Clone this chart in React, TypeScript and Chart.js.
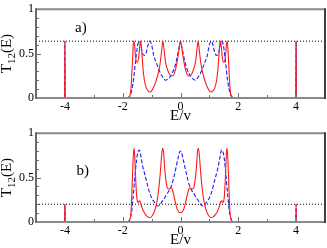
import React, { useEffect, useRef } from 'react';
import { Chart, registerables } from 'chart.js';

Chart.register(...registerables);

const SERIF = "'Liberation Serif', 'Times New Roman', serif";

// axis ticks
const X_MAJOR = [-4, -2, 0, 2, 4];
const X_MINOR = [-3, -1, 1, 3];
const Y_MAJOR = [0, 0.5, 1];
const Y_MINOR = [0.1, 0.2, 0.3, 0.4, 0.6, 0.7, 0.8, 0.9];

// panel labels
const PANEL_LABELS = ['a)', 'b)'];
const LABEL_E = [-3.45, -3.38];
const LABEL_T = [0.79, 0.574];

// horizontal dotted reference levels
const LEVELS = [0.64, 0.2];

// panel a) red solid (E, T)
const A_RED: [number, number][] = [
  [-5, 0], [-4.01, 0], [-4, 0.64], [-3.99, 0], [-1.85, 0], [-1.78, 0.01], [-1.74, 0.04],
  [-1.71, 0.12], [-1.68, 0.3], [-1.65, 0.5], [-1.62, 0.64], [-1.59, 0.6], [-1.55, 0.45],
  [-1.5, 0.4], [-1.45, 0.45], [-1.41, 0.58], [-1.38, 0.64], [-1.35, 0.56], [-1.3, 0.34],
  [-1.25, 0.2], [-1.19, 0.12], [-1.12, 0.08], [-1.06, 0.068], [-1.0, 0.08], [-0.93, 0.12],
  [-0.85, 0.19], [-0.77, 0.28], [-0.7, 0.4], [-0.65, 0.54], [-0.61, 0.64], [-0.57, 0.55],
  [-0.52, 0.41], [-0.46, 0.33], [-0.4, 0.28], [-0.32, 0.25], [-0.26, 0.25], [-0.18, 0.31],
  [-0.11, 0.42], [-0.05, 0.55], [0, 0.64],
  [0.05, 0.55], [0.11, 0.42], [0.18, 0.31], [0.26, 0.25], [0.32, 0.25], [0.4, 0.28],
  [0.46, 0.33], [0.52, 0.41], [0.57, 0.55], [0.61, 0.64], [0.65, 0.54], [0.7, 0.4],
  [0.77, 0.28], [0.85, 0.19], [0.93, 0.12], [1.0, 0.08], [1.06, 0.068], [1.12, 0.08],
  [1.19, 0.12], [1.25, 0.2], [1.3, 0.34], [1.35, 0.56], [1.38, 0.64], [1.41, 0.58],
  [1.45, 0.45], [1.5, 0.4], [1.55, 0.45], [1.59, 0.6], [1.62, 0.64], [1.65, 0.5],
  [1.68, 0.3], [1.71, 0.12], [1.74, 0.04], [1.78, 0.01], [1.85, 0], [3.99, 0], [4, 0.64],
  [4.01, 0], [5, 0],
];

// panel a) blue dashed (E, T)
const A_BLUE: [number, number][] = [
  [-5, 0], [-4.01, 0], [-4, 0.64], [-3.99, 0], [-1.9, 0], [-1.8, 0.01], [-1.74, 0.03],
  [-1.68, 0.1], [-1.62, 0.22], [-1.56, 0.4], [-1.5, 0.56], [-1.45, 0.63], [-1.41, 0.64],
  [-1.36, 0.57], [-1.3, 0.49], [-1.24, 0.48], [-1.18, 0.52], [-1.12, 0.6], [-1.06, 0.64],
  [-1.0, 0.6], [-0.92, 0.47], [-0.84, 0.4], [-0.76, 0.33], [-0.68, 0.27], [-0.6, 0.23],
  [-0.52, 0.2], [-0.45, 0.21], [-0.38, 0.23], [-0.3, 0.27], [-0.22, 0.33], [-0.15, 0.41],
  [-0.08, 0.52], [-0.03, 0.6], [0, 0.64],
  [0.03, 0.6], [0.08, 0.52], [0.15, 0.41], [0.22, 0.33], [0.3, 0.27], [0.38, 0.23],
  [0.45, 0.21], [0.52, 0.2], [0.6, 0.23], [0.68, 0.27], [0.76, 0.33], [0.84, 0.4],
  [0.92, 0.47], [1.0, 0.6], [1.06, 0.64], [1.12, 0.6], [1.18, 0.52], [1.24, 0.48],
  [1.3, 0.49], [1.36, 0.57], [1.41, 0.64], [1.45, 0.63], [1.5, 0.56], [1.56, 0.4],
  [1.62, 0.22], [1.68, 0.1], [1.74, 0.03], [1.8, 0.01], [1.9, 0], [3.99, 0], [4, 0.64],
  [4.01, 0], [5, 0],
];

// panel b) red solid (E, T)
const B_RED: [number, number][] = [
  [-5, 0], [-4.01, 0], [-4, 0.2], [-3.99, 0], [-1.85, 0], [-1.78, 0.01], [-1.74, 0.04],
  [-1.71, 0.12], [-1.68, 0.35], [-1.65, 0.62], [-1.62, 0.8], [-1.6, 0.83], [-1.58, 0.72],
  [-1.55, 0.48], [-1.52, 0.3], [-1.49, 0.23], [-1.46, 0.22], [-1.43, 0.24], [-1.4, 0.23],
  [-1.35, 0.18], [-1.28, 0.12], [-1.2, 0.08], [-1.12, 0.055], [-1.05, 0.05], [-0.98, 0.07],
  [-0.9, 0.12], [-0.82, 0.22], [-0.75, 0.38], [-0.7, 0.55], [-0.66, 0.72], [-0.62, 0.83],
  [-0.59, 0.8], [-0.55, 0.62], [-0.5, 0.46], [-0.45, 0.38], [-0.39, 0.37], [-0.32, 0.385],
  [-0.26, 0.34], [-0.19, 0.24], [-0.12, 0.15], [-0.06, 0.115], [0, 0.107],
  [0.06, 0.115], [0.12, 0.15], [0.19, 0.24], [0.26, 0.34], [0.32, 0.385], [0.39, 0.37],
  [0.45, 0.38], [0.5, 0.46], [0.55, 0.62], [0.59, 0.8], [0.62, 0.83], [0.66, 0.72],
  [0.7, 0.55], [0.75, 0.38], [0.82, 0.22], [0.9, 0.12], [0.98, 0.07], [1.05, 0.05],
  [1.12, 0.055], [1.2, 0.08], [1.28, 0.12], [1.35, 0.18], [1.4, 0.23], [1.43, 0.24],
  [1.46, 0.22], [1.49, 0.23], [1.52, 0.3], [1.55, 0.48], [1.58, 0.72], [1.6, 0.83],
  [1.62, 0.8], [1.65, 0.62], [1.68, 0.35], [1.71, 0.12], [1.74, 0.04], [1.78, 0.01],
  [1.85, 0], [3.99, 0], [4, 0.2], [4.01, 0], [5, 0],
];

// panel b) blue dashed (E, T)
const B_BLUE: [number, number][] = [
  [-5, 0], [-4.01, 0], [-4, 0.2], [-3.99, 0], [-1.9, 0], [-1.8, 0.01], [-1.74, 0.04],
  [-1.69, 0.12], [-1.64, 0.28], [-1.58, 0.5], [-1.52, 0.7], [-1.47, 0.79], [-1.42, 0.81],
  [-1.37, 0.74], [-1.31, 0.63], [-1.24, 0.54], [-1.16, 0.44], [-1.07, 0.33], [-0.98, 0.26],
  [-0.9, 0.22], [-0.83, 0.19], [-0.78, 0.18], [-0.72, 0.19], [-0.64, 0.23], [-0.55, 0.27],
  [-0.46, 0.32], [-0.38, 0.36], [-0.3, 0.42], [-0.22, 0.52], [-0.15, 0.62], [-0.09, 0.71],
  [-0.04, 0.78], [0, 0.8],
  [0.04, 0.78], [0.09, 0.71], [0.15, 0.62], [0.22, 0.52], [0.3, 0.42], [0.38, 0.36],
  [0.46, 0.32], [0.55, 0.27], [0.64, 0.23], [0.72, 0.19], [0.78, 0.18], [0.83, 0.19],
  [0.9, 0.22], [0.98, 0.26], [1.07, 0.33], [1.16, 0.44], [1.24, 0.54], [1.31, 0.63],
  [1.37, 0.74], [1.42, 0.81], [1.47, 0.79], [1.52, 0.7], [1.58, 0.5], [1.64, 0.28],
  [1.69, 0.12], [1.74, 0.04], [1.8, 0.01], [1.9, 0], [3.99, 0], [4, 0.2], [4.01, 0], [5, 0],
];

const framePlugin = {
  id: 'frame',
  afterDatasetsDraw(chart: any, _args: any, opts: any) {
    const { ctx, chartArea: a, scales } = chart;
    const xs = scales.x;
    const ys = scales.y;
    ctx.save();
    // inward tick marks
    ctx.strokeStyle = '#707070';
    ctx.lineWidth = 1;
    const seg = (x1: number, y1: number, x2: number, y2: number) => {
      ctx.beginPath();
      ctx.moveTo(x1, y1);
      ctx.lineTo(x2, y2);
      ctx.stroke();
    };
    X_MAJOR.forEach((v) => { const p = Math.round(xs.getPixelForValue(v)) + 0.5; seg(p, a.bottom, p, a.bottom - 5); });
    X_MINOR.forEach((v) => { const p = Math.round(xs.getPixelForValue(v)) + 0.5; seg(p, a.bottom, p, a.bottom - 3); });
    Y_MAJOR.forEach((v) => { const p = Math.round(ys.getPixelForValue(v)) + 0.5; seg(a.left, p, a.left + 5, p); });
    Y_MINOR.forEach((v) => { const p = Math.round(ys.getPixelForValue(v)) + 0.5; seg(a.left, p, a.left + 3, p); });
    // frame
    ctx.lineWidth = 2;
    ctx.strokeStyle = '#8a8a8a';
    seg(a.left, a.top, a.right, a.top);
    seg(a.left, a.bottom, a.right, a.bottom);
    ctx.strokeStyle = '#6a6a6a';
    seg(a.left, a.top - 1, a.left, a.bottom + 1);
    ctx.strokeStyle = '#404040';
    seg(a.right, a.top - 1, a.right, a.bottom + 1);

    // panel label
    ctx.fillStyle = '#000';
    ctx.font = `15px ${SERIF}`;
    ctx.textAlign = 'center';
    ctx.textBaseline = 'middle';
    ctx.fillText(opts.label, xs.getPixelForValue(opts.labelE), ys.getPixelForValue(opts.labelT));

    // y axis title T_12(E)
    const big = `15px ${SERIF}`;
    const small = `11px ${SERIF}`;
    ctx.font = big;
    const wT = ctx.measureText('T').width;
    const wE = ctx.measureText('(E)').width;
    ctx.font = small;
    const wS = ctx.measureText('12').width;
    const total = wT + wS + wE;
    const cy = (a.top + a.bottom) / 2;
    ctx.translate(11, cy + total / 2);
    ctx.rotate(-Math.PI / 2);
    ctx.textAlign = 'left';
    ctx.textBaseline = 'alphabetic';
    ctx.font = big;
    ctx.fillText('T', 0, 0);
    ctx.font = small;
    ctx.fillText('12', wT, 4);
    ctx.font = big;
    ctx.fillText('(E)', wT + wS, 0);
    ctx.restore();
  },
};

type PanelProps = {
  red: [number, number][];
  blue: [number, number][];
  level: number;
  label: string;
  labelE: number;
  labelT: number;
};

function Panel({ red, blue, level, label, labelE, labelT }: PanelProps) {
  const ref = useRef<HTMLCanvasElement>(null);
  useEffect(() => {
    const toPts = (arr: [number, number][]) => arr.map(([x, y]) => ({ x, y }));
    const chart = new Chart(ref.current as HTMLCanvasElement, {
      type: 'line',
      data: {
        datasets: [
          {
            data: toPts(red),
            borderColor: '#ff1a1a',
            borderWidth: 1.1,
            pointRadius: 0,
            cubicInterpolationMode: 'monotone',
          },
          {
            data: toPts(blue),
            borderColor: '#1a1aff',
            borderWidth: 1.1,
            borderDash: [4, 2],
            pointRadius: 0,
            cubicInterpolationMode: 'monotone',
          },
          {
            data: [{ x: -5, y: level }, { x: 5, y: level }],
            borderColor: '#000',
            borderWidth: 1,
            borderDash: [1, 2],
            pointRadius: 0,
          },
        ],
      } as any,
      options: {
        responsive: false,
        animation: false,
        events: [],
        layout: { padding: { top: 5, right: 2, left: 0, bottom: 0 } },
        plugins: {
          legend: { display: false },
          tooltip: { enabled: false },
          frame: { label, labelE, labelT },
        } as any,
        scales: {
          x: {
            type: 'linear',
            min: -5,
            max: 5,
            afterBuildTicks: (s: any) => { s.ticks = X_MAJOR.map((v) => ({ value: v })); },
            afterFit: (s: any) => { s.height = 26; },
            grid: { display: false, drawTicks: false },
            border: { display: false },
            ticks: { color: '#000', padding: 2, maxRotation: 0, autoSkip: false, font: { family: SERIF, size: 12 }, callback: (v: any) => String(v) },
            title: { display: true, text: 'E/v', color: '#000', padding: 0, font: { family: SERIF, size: 15, lineHeight: 1 } },
          },
          y: {
            type: 'linear',
            min: 0,
            max: 1,
            afterBuildTicks: (s: any) => { s.ticks = Y_MAJOR.map((v) => ({ value: v })); },
            afterFit: (s: any) => { s.width = 36; },
            grid: { display: false, drawTicks: false },
            border: { display: false },
            ticks: { color: '#000', padding: 2, autoSkip: false, font: { family: SERIF, size: 12 }, callback: (v: any) => String(v) },
          },
        },
      } as any,
      plugins: [framePlugin],
    });
    return () => chart.destroy();
  }, []);
  return <canvas ref={ref} width={327} height={124} style={{ display: 'block', width: 327, height: 124 }} />;
}

export default function App() {
  return (
    <div style={{ position: 'absolute', left: 0, top: 0, width: 327, height: 248, background: '#fff' }}>
      <Panel red={A_RED} blue={A_BLUE} level={LEVELS[0]} label={PANEL_LABELS[0]} labelE={LABEL_E[0]} labelT={LABEL_T[0]} />
      <Panel red={B_RED} blue={B_BLUE} level={LEVELS[1]} label={PANEL_LABELS[1]} labelE={LABEL_E[1]} labelT={LABEL_T[1]} />
    </div>
  );
}
